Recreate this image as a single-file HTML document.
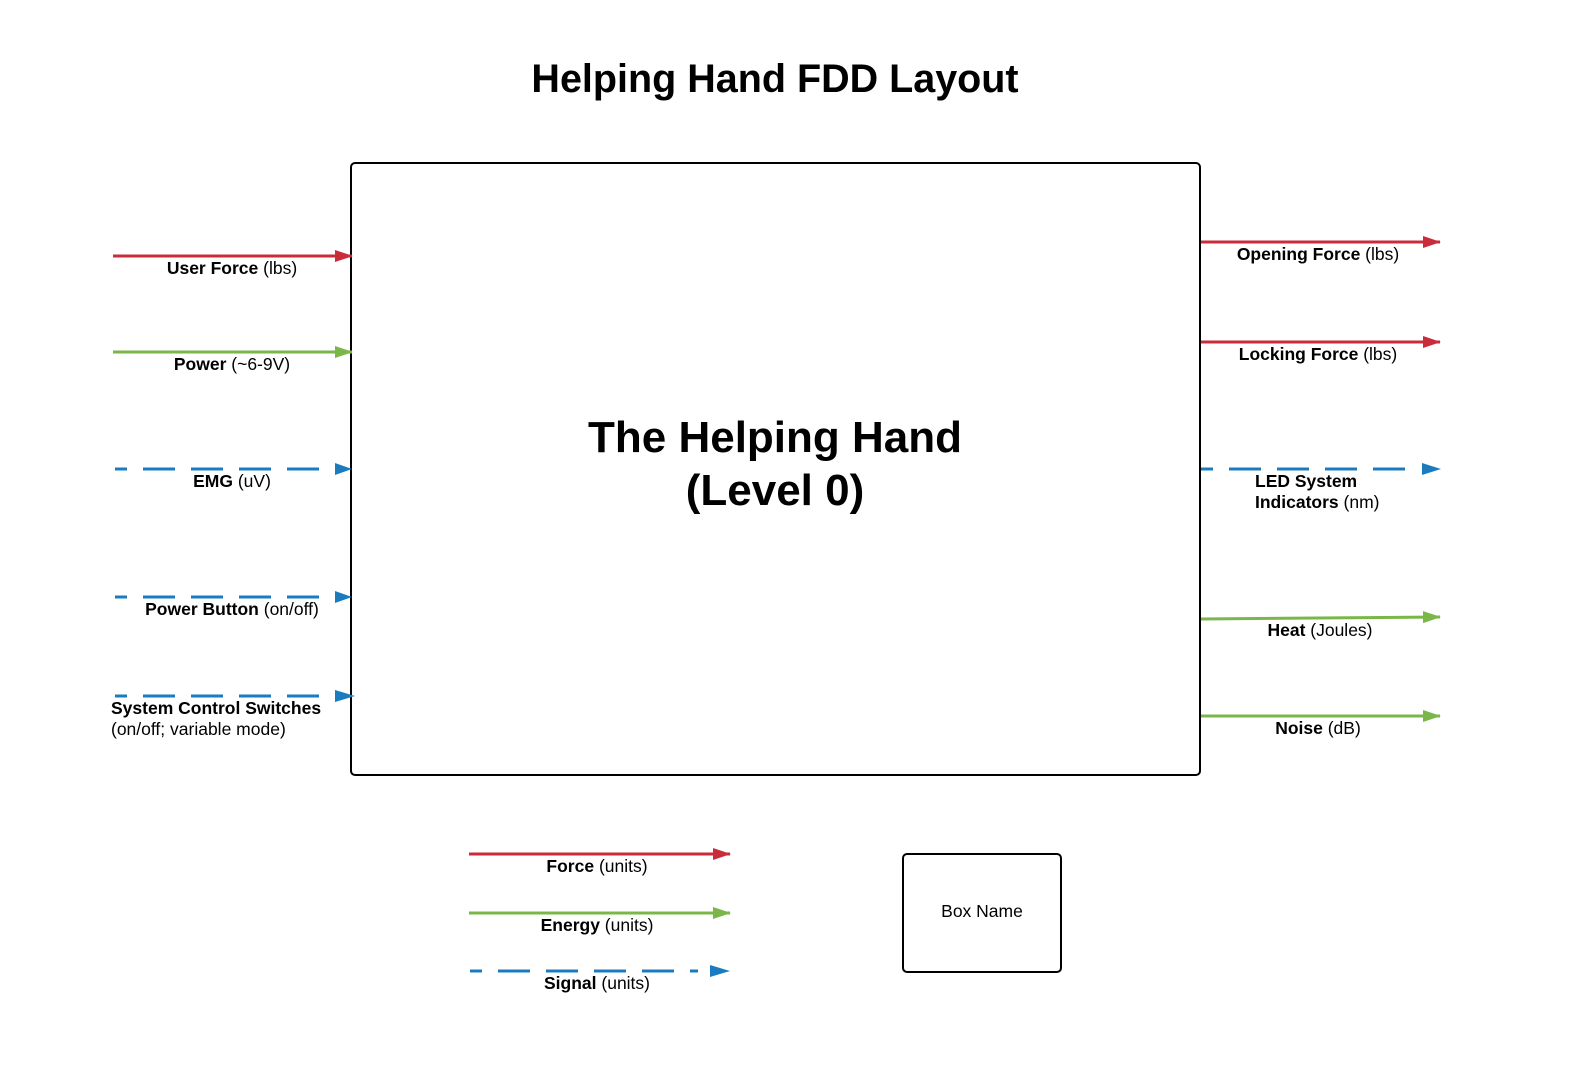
<!DOCTYPE html>
<html><head><meta charset="utf-8"><style>
html,body{margin:0;padding:0;background:#fff}
svg{display:block}
text{font-family:"Liberation Sans",Arial,sans-serif;fill:#000}
.b{font-weight:bold}
</style></head><body>
<svg width="1588" height="1087" viewBox="0 0 1588 1087" xmlns="http://www.w3.org/2000/svg">
<defs>
<marker id="ar" markerWidth="18" markerHeight="12" refX="17" refY="6" orient="auto" markerUnits="userSpaceOnUse"><path d="M0,0 L18,6 L0,12 z" fill="#c92d39"/></marker>
<marker id="ag" markerWidth="18" markerHeight="12" refX="17" refY="6" orient="auto" markerUnits="userSpaceOnUse"><path d="M0,0 L18,6 L0,12 z" fill="#7ab648"/></marker>
</defs>
<text x="775" y="92" font-size="39.5" class="b" text-anchor="middle">Helping Hand FDD Layout</text>
<rect x="351" y="163" width="849" height="612" rx="4" fill="none" stroke="#000" stroke-width="2"/>
<text x="775" y="452" font-size="44" class="b" text-anchor="middle">The Helping Hand</text>
<text x="775" y="505" font-size="44" class="b" text-anchor="middle">(Level 0)</text>

<g stroke-width="3" fill="none">
<line x1="113" y1="256" x2="352" y2="256" stroke="#c92d39" marker-end="url(#ar)"/>
<line x1="113" y1="352" x2="352" y2="352" stroke="#7ab648" marker-end="url(#ag)"/>
<g stroke="#1a7cbf" stroke-dasharray="32 16" stroke-dashoffset="20">
<line x1="115" y1="469" x2="323" y2="469"/>
<line x1="115" y1="597" x2="323" y2="597"/>
<line x1="115" y1="696" x2="323" y2="696"/>
<line x1="1201" y1="469" x2="1420" y2="469"/>
<line x1="470" y1="971" x2="698" y2="971"/>
</g>
<line x1="1201" y1="242" x2="1440" y2="242" stroke="#c92d39" marker-end="url(#ar)"/>
<line x1="1201" y1="342" x2="1440" y2="342" stroke="#c92d39" marker-end="url(#ar)"/>
<line x1="1201" y1="619" x2="1440" y2="617" stroke="#7ab648" marker-end="url(#ag)"/>
<line x1="1201" y1="716" x2="1440" y2="716" stroke="#7ab648" marker-end="url(#ag)"/>
<line x1="469" y1="854" x2="730" y2="854" stroke="#c92d39" marker-end="url(#ar)"/>
<line x1="469" y1="913" x2="730" y2="913" stroke="#7ab648" marker-end="url(#ag)"/>
</g>
<g fill="#1a7cbf">
<path d="M335,463 L352,469 L335,475z"/>
<path d="M335,591 L352,597 L335,603z"/>
<path d="M335,690 L355,696 L335,702z"/>
<path d="M1422,463 L1441,469 L1422,475z"/>
<path d="M710,965 L730,971 L710,977z"/>
</g>

<g font-size="17.5">
<text x="232" y="274" text-anchor="middle"><tspan class="b">User Force</tspan> (lbs)</text>
<text x="232" y="370" text-anchor="middle"><tspan class="b">Power</tspan> (~6-9V)</text>
<text x="232" y="487" text-anchor="middle"><tspan class="b">EMG</tspan> (uV)</text>
<text x="232" y="615" text-anchor="middle"><tspan class="b">Power Button</tspan> (on/off)</text>
<text x="111" y="714"><tspan class="b">System Control Switches</tspan></text>
<text x="111" y="735">(on/off; variable mode)</text>
<text x="1318" y="260" text-anchor="middle"><tspan class="b">Opening Force</tspan> (lbs)</text>
<text x="1318" y="360" text-anchor="middle"><tspan class="b">Locking Force</tspan> (lbs)</text>
<text x="1255" y="487"><tspan class="b">LED System</tspan></text>
<text x="1255" y="508"><tspan class="b">Indicators</tspan> (nm)</text>
<text x="1320" y="636" text-anchor="middle"><tspan class="b">Heat</tspan> (Joules)</text>
<text x="1318" y="734" text-anchor="middle"><tspan class="b">Noise</tspan> (dB)</text>
<text x="597" y="872" text-anchor="middle"><tspan class="b">Force</tspan> (units)</text>
<text x="597" y="931" text-anchor="middle"><tspan class="b">Energy</tspan> (units)</text>
<text x="597" y="989" text-anchor="middle"><tspan class="b">Signal</tspan> (units)</text>
</g>
<rect x="903" y="854" width="158" height="118" rx="4" fill="none" stroke="#000" stroke-width="2"/>
<text x="982" y="917" font-size="17.5" text-anchor="middle">Box Name</text>
</svg>
</body></html>
